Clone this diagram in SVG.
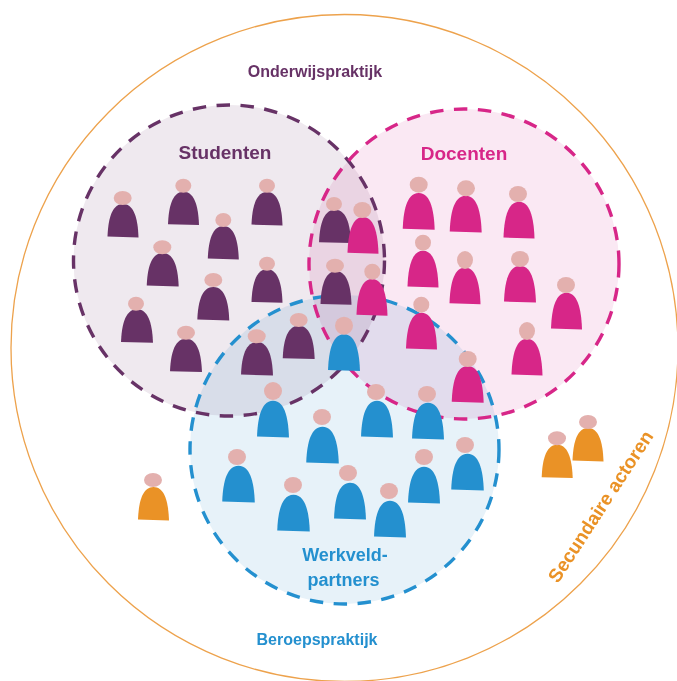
<svg xmlns="http://www.w3.org/2000/svg" xmlns:xlink="http://www.w3.org/1999/xlink" width="677" height="681" viewBox="0 0 677 681">
<style>
text{font-family:"Liberation Sans",Arial,sans-serif;font-weight:700}
.fill{mix-blend-mode:multiply;stroke:none}
.ring{fill:none;stroke-width:3.4;stroke-dasharray:13.500 10.500}
.head{fill:#e3b0ae}
.s{fill:#673266}.d{fill:#d72688}.w{fill:#2490cf}.o{fill:#ea9226}
</style>
<defs>
<path id="b" d="M-15.500-.4C-15-14-12.500-33 0-33C12.500-33 15-14 15.500.4Z"/>
</defs>
<rect width="677" height="681" fill="#fff"/>
<g id="actoren-kader"><circle cx="344.5" cy="348" r="333.5" fill="none" stroke="#eda24c" stroke-width="1.3"/></g>
<g id="cirkels">
<circle class="fill" cx="229" cy="260.500" r="155.500" fill="#efe9ef"/>
<circle class="fill" cx="464" cy="264" r="155" fill="#fae8f3"/>
<circle class="fill" cx="344.5" cy="449.5" r="154.5" fill="#e7f2f9"/>
</g>
<g id="connectors">
<circle class="ring" cx="229" cy="260.500" r="155.500" stroke="#673266"/>
<circle class="ring" cx="464" cy="264" r="155" stroke="#d72688"/>
<circle class="ring" cx="344.5" cy="449.5" r="154.5" stroke="#2490cf"/>
</g>
<g id="studenten">
<g><use href="#b" class="s" transform="translate(123,237)"/><ellipse class="head" cx="122.7" cy="198" rx="9" ry="7"/></g>
<g><use href="#b" class="s" transform="translate(183.5,224.7)"/><ellipse class="head" cx="183.3" cy="185.7" rx="8" ry="7"/></g>
<g><use href="#b" class="s" transform="translate(267,225)"/><ellipse class="head" cx="267" cy="185.7" rx="8" ry="7"/></g>
<g><use href="#b" class="s" transform="translate(223.3,259)"/><ellipse class="head" cx="223.3" cy="220" rx="8" ry="7"/></g>
<g><use href="#b" class="s" transform="translate(162.7,286) scale(1.03,1)"/><ellipse class="head" cx="162.3" cy="247.3" rx="9" ry="7"/></g>
<g><use href="#b" class="s" transform="translate(213.3,320) scale(1.03,1)"/><ellipse class="head" cx="213.3" cy="280" rx="9" ry="7"/></g>
<g><use href="#b" class="s" transform="translate(267,302.3)"/><ellipse class="head" cx="267" cy="263.7" rx="8" ry="7"/></g>
<g><use href="#b" class="s" transform="translate(137,342.3) scale(1.03,1)"/><ellipse class="head" cx="136" cy="303.7" rx="8" ry="7"/></g>
<g><use href="#b" class="s" transform="translate(186,371.7) scale(1.03,1)"/><ellipse class="head" cx="186" cy="332.7" rx="9" ry="7"/></g>
<g><use href="#b" class="s" transform="translate(257,375) scale(1.03,1)"/><ellipse class="head" cx="256.7" cy="336.3" rx="9" ry="7"/></g>
<g><use href="#b" class="s" transform="translate(298.7,358.7) scale(1.03,1)"/><ellipse class="head" cx="298.7" cy="320" rx="9" ry="7"/></g>
<g><use href="#b" class="s" transform="translate(335,242.7) scale(1.03,1)"/><ellipse class="head" cx="334" cy="204" rx="8" ry="7"/></g>
<g><use href="#b" class="s" transform="translate(336,304.3)"/><ellipse class="head" cx="335" cy="265.7" rx="9" ry="7"/></g>
</g>
<g id="docenten">
<g><use href="#b" class="d" transform="translate(363,253.3) scale(1,1.1)"/><ellipse class="head" cx="362.3" cy="210" rx="9" ry="8"/></g>
<g><use href="#b" class="d" transform="translate(372,315.3) scale(1,1.1)"/><ellipse class="head" cx="372.3" cy="271.7" rx="8" ry="8"/></g>
<g><use href="#b" class="d" transform="translate(418.7,229.3) scale(1.03,1.1)"/><ellipse class="head" cx="418.7" cy="184.7" rx="9" ry="8"/></g>
<g><use href="#b" class="d" transform="translate(465.7,232) scale(1.03,1.1)"/><ellipse class="head" cx="466" cy="188.3" rx="9" ry="8"/></g>
<g><use href="#b" class="d" transform="translate(423,287) scale(1,1.1)"/><ellipse class="head" cx="423" cy="242.7" rx="8" ry="8"/></g>
<g><use href="#b" class="d" transform="translate(465,303.7) scale(1,1.1)"/><ellipse class="head" cx="465" cy="260" rx="8" ry="9"/></g>
<g><use href="#b" class="d" transform="translate(421.5,349) scale(1,1.1)"/><ellipse class="head" cx="421.3" cy="304.7" rx="8" ry="8"/></g>
<g><use href="#b" class="d" transform="translate(467.7,402.3) scale(1.03,1.1)"/><ellipse class="head" cx="467.7" cy="359" rx="9" ry="8"/></g>
<g><use href="#b" class="d" transform="translate(519,238) scale(1,1.1)"/><ellipse class="head" cx="518" cy="194" rx="9" ry="8"/></g>
<g><use href="#b" class="d" transform="translate(520,302) scale(1.03,1.1)"/><ellipse class="head" cx="520" cy="259" rx="9" ry="8"/></g>
<g><use href="#b" class="d" transform="translate(566.5,329) scale(1,1.1)"/><ellipse class="head" cx="566" cy="285" rx="9" ry="8"/></g>
<g><use href="#b" class="d" transform="translate(527,375) scale(1,1.1)"/><ellipse class="head" cx="527" cy="331" rx="8" ry="9"/></g>
</g>
<g id="werkveldpartners">
<g><use href="#b" class="w" transform="translate(344,370.5) scale(1.03,1.1)"/><ellipse class="head" cx="344" cy="325.7" rx="9" ry="9"/></g>
<g><use href="#b" class="w" transform="translate(273,437) scale(1.03,1.1)"/><ellipse class="head" cx="273" cy="391" rx="9" ry="9"/></g>
<g><use href="#b" class="w" transform="translate(322.5,463) scale(1.05,1.1)"/><ellipse class="head" cx="322" cy="417" rx="9" ry="8"/></g>
<g><use href="#b" class="w" transform="translate(377,437) scale(1.03,1.1)"/><ellipse class="head" cx="376" cy="392" rx="9" ry="8"/></g>
<g><use href="#b" class="w" transform="translate(428,439) scale(1.03,1.1)"/><ellipse class="head" cx="427" cy="394" rx="9" ry="8"/></g>
<g><use href="#b" class="w" transform="translate(467.5,490) scale(1.05,1.1)"/><ellipse class="head" cx="465" cy="445" rx="9" ry="8"/></g>
<g><use href="#b" class="w" transform="translate(424,503) scale(1.03,1.1)"/><ellipse class="head" cx="424" cy="457" rx="9" ry="8"/></g>
<g><use href="#b" class="w" transform="translate(238.5,502) scale(1.05,1.1)"/><ellipse class="head" cx="237" cy="457" rx="9" ry="8"/></g>
<g><use href="#b" class="w" transform="translate(293.5,531) scale(1.05,1.1)"/><ellipse class="head" cx="293" cy="485" rx="9" ry="8"/></g>
<g><use href="#b" class="w" transform="translate(350,519) scale(1.03,1.1)"/><ellipse class="head" cx="348" cy="473" rx="9" ry="8"/></g>
<g><use href="#b" class="w" transform="translate(390,537) scale(1.03,1.1)"/><ellipse class="head" cx="389" cy="491" rx="9" ry="8"/></g>
</g>
<g id="secundair">
<g><use href="#b" class="o" transform="translate(153.5,520)"/><ellipse class="head" cx="153" cy="480" rx="9" ry="7"/></g>
<g><use href="#b" class="o" transform="translate(557.2,477.7)"/><ellipse class="head" cx="557" cy="438.3" rx="9" ry="7"/></g>
<g><use href="#b" class="o" transform="translate(588,461)"/><ellipse class="head" cx="588" cy="422" rx="9" ry="7"/></g>
</g>
<g id="labels">
<text x="315" y="77" text-anchor="middle" font-size="16" fill="#673266">Onderwijspraktijk</text>
<text x="225" y="158.500" text-anchor="middle" font-size="19" fill="#673266">Studenten</text>
<text x="464" y="160" text-anchor="middle" font-size="19" fill="#d72688">Docenten</text>
<text x="345" y="561" text-anchor="middle" font-size="18" fill="#2490cf">Werkveld-</text>
<text x="343.500" y="586" text-anchor="middle" font-size="18" fill="#2490cf">partners</text>
<text x="317" y="645" text-anchor="middle" font-size="16" fill="#2490cf">Beroepspraktijk</text>
<text transform="translate(558,584) rotate(-57)" font-size="19" fill="#ea9226">Secundaire actoren</text>
</g>
</svg>
